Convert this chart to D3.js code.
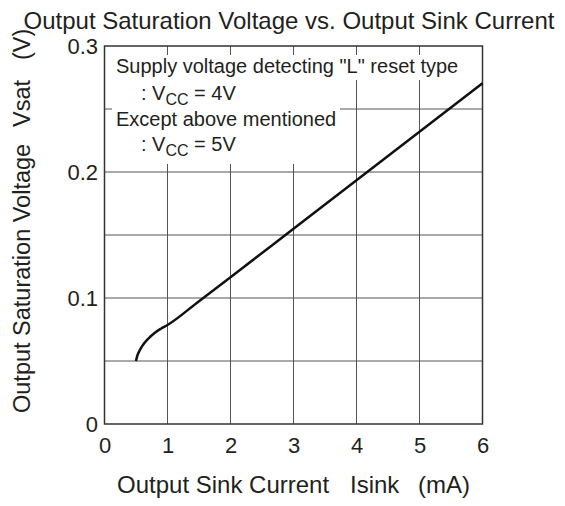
<!DOCTYPE html>
<html><head><meta charset="utf-8">
<script src="https://cdn.jsdelivr.net/npm/d3@7"></script>
<style>body{margin:0;background:#fff}svg{display:block}text{font-family:"Liberation Sans",Arial,sans-serif;fill:#231f20}</style>
</head><body>
<svg id="c" width="565" height="506"></svg>
<script>
const isink = [0.5, 0.52, 0.56, 0.6, 0.7, 0.8, 0.9, 1.0, 1.5, 2, 3, 4, 5, 6];
const vsat  = [0.050, 0.054, 0.0585, 0.062, 0.068, 0.0725, 0.0758, 0.0786, 0.0975, 0.1165, 0.155, 0.1935, 0.232, 0.2705];
const xTicks = [0, 1, 2, 3, 4, 5, 6];
const yTickLabels = [0, 0.1, 0.2, 0.3];
const yGrid = [0.05, 0.1, 0.15, 0.2, 0.25];
const titleText = "Output Saturation Voltage vs. Output Sink Current";
const xTitleParts = ["Output Sink Current", "Isink", "(mA)"];
const yTitleParts = ["Output Saturation Voltage", "Vsat", "(V)"];

const svg = d3.select("#c");
const L = 104.5, R = 482.5, T = 46, B = 424;
const x = d3.scaleLinear().domain([0, 6]).range([L, R]);
const y = d3.scaleLinear().domain([0, 0.3]).range([B, T]);

// grid
svg.append("g").selectAll("line").data(xTicks.slice(1, -1)).join("line")
  .attr("x1", d => x(d)).attr("x2", d => x(d)).attr("y1", T).attr("y2", B)
  .attr("stroke", "#555").attr("stroke-width", 1);
svg.append("g").selectAll("line").data(yGrid).join("line")
  .attr("x1", L).attr("x2", R).attr("y1", d => y(d)).attr("y2", d => y(d))
  .attr("stroke", "#555").attr("stroke-width", 1);

// white note background
svg.append("rect").attr("x", 112).attr("y", 55).attr("width", 353).attr("height", 25).attr("fill", "#fff");
svg.append("rect").attr("x", 112).attr("y", 55).attr("width", 228).attr("height", 109).attr("fill", "#fff");

// frame
svg.append("rect").attr("x", L).attr("y", T).attr("width", R - L).attr("height", B - T)
  .attr("fill", "none").attr("stroke", "#333").attr("stroke-width", 1.5);

// curve
const line = d3.line().x((d, i) => x(isink[i])).y((d, i) => y(vsat[i])).curve(d3.curveMonotoneX);
svg.append("path").datum(vsat).attr("d", line).attr("fill", "none")
  .attr("stroke", "#111").attr("stroke-width", 2.5);

// axes labels
const xa = svg.append("g").attr("transform", `translate(0,${B})`)
  .call(d3.axisBottom(x).tickValues(xTicks).tickSize(0).tickPadding(13).tickFormat(d3.format("d")));
xa.select(".domain").remove();
xa.selectAll("text").attr("font-size", 22).attr("fill", "#231f20").style("font-family", "Liberation Sans, Arial, sans-serif");

const ya = svg.append("g").attr("transform", `translate(${L},0)`)
  .call(d3.axisLeft(y).tickValues(yTickLabels).tickSize(0).tickPadding(6.5).tickFormat(d => d === 0 ? "0" : d3.format(".1f")(d)));
ya.select(".domain").remove();
ya.selectAll("text").attr("font-size", 22).attr("fill", "#231f20").style("font-family", "Liberation Sans, Arial, sans-serif");

// titles
svg.append("text").attr("x", 289).attr("y", 29).attr("text-anchor", "middle").attr("font-size", 24).text(titleText);
const xtPos = [117, 350, 418];
xTitleParts.forEach((t, i) => svg.append("text").attr("x", xtPos[i]).attr("y", 493).attr("font-size", 24).text(t));
const ytPos = [413, 127, 60];
yTitleParts.forEach((t, i) => svg.append("text").attr("transform", `translate(30,${ytPos[i]}) rotate(-90)`).attr("font-size", 23.5).text(t));

// note
const note = svg.append("g").attr("font-size", 20);
note.append("text").attr("x", 116).attr("y", 73).text('Supply voltage detecting "L" reset type');
const l2 = note.append("text").attr("x", 141).attr("y", 100);
l2.append("tspan").text(": V");
l2.append("tspan").attr("font-size", 16).attr("dy", 5).text("CC");
l2.append("tspan").attr("dy", -5).text(" = 4V");
note.append("text").attr("x", 116).attr("y", 126).text("Except above mentioned");
const l4 = note.append("text").attr("x", 141).attr("y", 151);
l4.append("tspan").text(": V");
l4.append("tspan").attr("font-size", 16).attr("dy", 5).text("CC");
l4.append("tspan").attr("dy", -5).text(" = 5V");
</script>
</body></html>
